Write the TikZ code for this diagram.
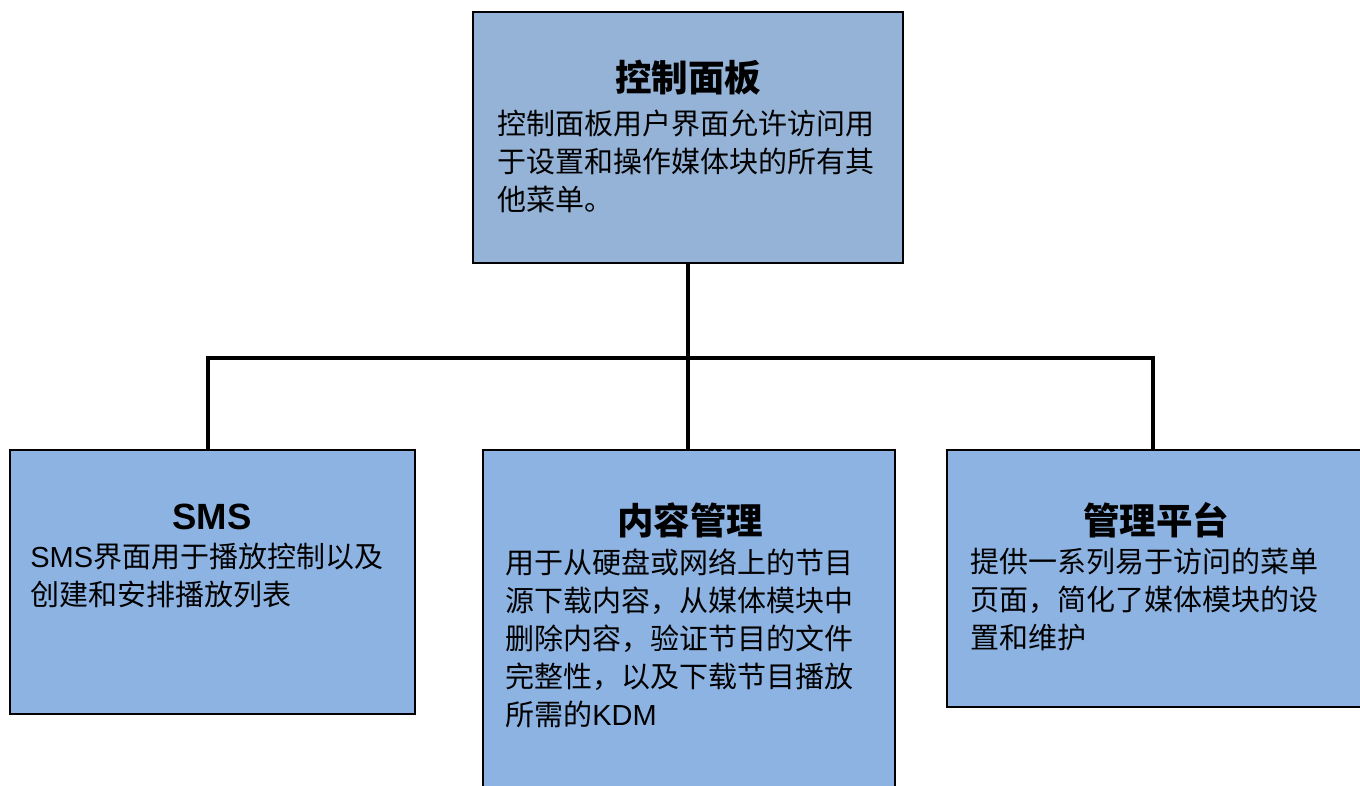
\documentclass[tikz,border=0pt]{standalone}
\usepackage{fontspec}
\setmainfont{Noto Sans CJK SC}
\newfontfamily\lat{Liberation Sans}
\usetikzlibrary{positioning}

\definecolor{topblue}{RGB}{149,179,215}
\definecolor{subblue}{RGB}{141,179,226}

\begin{document}
\begin{tikzpicture}[x=0.5pt,y=-0.5pt,
  box/.style={draw=black,line width=1pt,inner sep=0pt,fill=subblue},
  title/.style={inner sep=0pt,font=\fontsize{18.25}{22}\selectfont\bfseries},
  body/.style={inner sep=0pt,anchor=north west,align=left,
    font=\fontsize{14.5}{19}\selectfont},
  link/.style={line width=2.2pt}]

  \clip (0,0) rectangle (1360,786);
  \fill[white] (0,0) rectangle (1360,786);

  % boxes
  \node (panel) [box,fill=topblue,minimum width=215pt,minimum height=125.5pt] at (688,137.5) {};
  \node (sms) [box,minimum width=202.5pt,minimum height=132pt] at (212.5,582) {};
  \node (content) [box,minimum width=206pt,minimum height=180pt] at (689,630) {};
  \node (mgmt) [box,minimum width=209pt,minimum height=128.5pt] at (1156,578.5) {};

  % texts
  \node (panelt) [title] at (688,78) {控制面板};
  \node (panelb) [body] at (497,110) {控制面板用户界面允许访问用\\于设置和操作媒体块的所有其\\他菜单。};

  \node (smst) [title] at (212,517) {\lat SMS};
  \node (smsb) [body] at (30,543) {{\lat SMS}界面用于播放控制以及\\创建和安排播放列表};

  \node (contentt) [title] at (690,520) {内容管理};
  \node (contentb) [body] at (505,548) {用于从硬盘或网络上的节目\\源下载内容，从媒体模块中\\删除内容，验证节目的文件\\完整性，以及下载节目播放\\所需的{\lat KDM}};

  \node (mgmtt) [title] at (1156,520) {管理平台};
  \node (mgmtb) [body] at (970,548) {提供一系列易于访问的菜单\\页面，简化了媒体模块的设\\置和维护};

  % connectors
  \coordinate (bus) at (688,358);
  \draw[link] (panel.south) -- (bus);
  \draw[link] (bus) -- (bus |- content.north);
  \draw[link] ([xshift=-2.25pt]sms.north) |- (bus) -| ([xshift=-1.5pt]mgmt.north);

\end{tikzpicture}
\end{document}
